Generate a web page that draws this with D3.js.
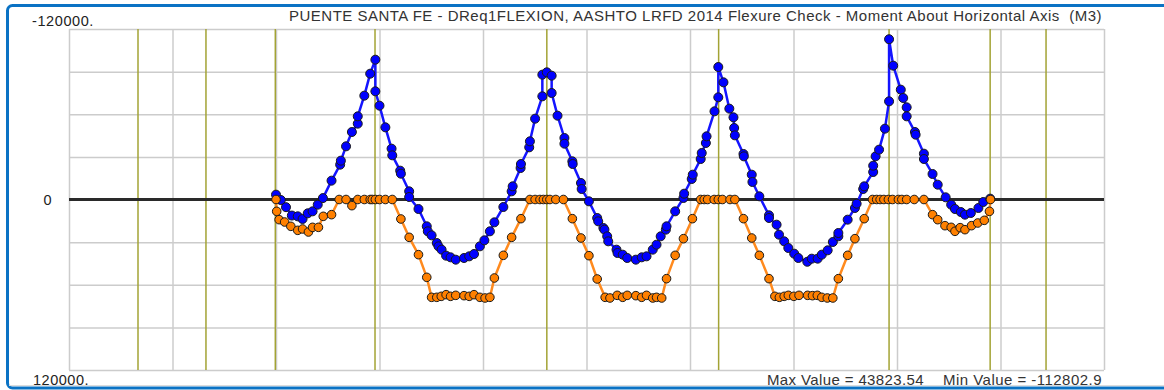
<!DOCTYPE html>
<html><head><meta charset="utf-8">
<script src="https://cdn.jsdelivr.net/npm/d3@7"></script>
<style>
html,body{margin:0;padding:0;background:#fff;}
svg{display:block;font-family:"Liberation Sans",Arial,sans-serif;}
text{white-space:pre;}
</style></head>
<body><svg id="c" width="1164" height="390"></svg>
<script>
// ---- data ----
const titleText = "PUENTE SANTA FE - DReq1FLEXION, AASHTO LRFD 2014 Flexure Check - Moment About Horizontal Axis  (M3)";
const yTicks = [-120000, -90000, -60000, -30000, 0, 30000, 60000, 90000, 120000];
const yLabels = ["-120000.", "0", "120000."];
const xGrid = [0, 30, 60, 90, 120, 150, 180, 210, 240, 270, 300];
const supports = [20.0, 39.7, 59.8, 88.7, 138.5, 188.3, 237.7, 267.0, 283.2];
const maxText = "Max Value = 43823.54";
const minText = "Min Value = -112802.9";

const blueX = [60.0,61.4,62.9,64.6,66.3,67.7,69.2,70.6,72.1,73.6,76.1,78.6,78.8,80.3,82.0,83.7,83.7,85.6,87.3,88.8,88.8,90.0,91.7,93.5,93.7,96.0,96.2,98.6,98.6,101.3,103.7,104.0,105.1,106.6,107.1,108.0,109.3,110.6,112.1,114.5,116.0,117.4,119.1,120.4,122.0,123.3,125.9,128.3,128.6,130.9,131.0,133.4,133.6,135.1,137.2,137.2,138.5,139.9,139.9,141.6,143.6,143.6,145.9,146.0,148.4,148.6,150.7,153.1,153.4,154.9,155.2,156.0,156.3,158.7,159.0,160.5,161.8,164.3,166.0,167.4,169.2,170.3,171.5,173.0,173.2,175.7,178.1,178.3,180.5,180.8,183.1,183.4,184.6,184.8,187.1,188.2,188.2,189.7,191.4,192.6,192.8,193.0,195.5,195.6,197.9,198.1,200.1,202.9,202.9,205.1,205.8,207.3,208.5,210.2,211.4,214.0,215.3,217.0,218.2,219.9,221.4,223.0,223.0,225.7,227.8,228.3,230.2,230.5,233.1,233.1,233.8,234.8,236.5,237.7,237.7,238.9,241.1,241.8,242.8,242.8,245.2,245.4,247.8,247.8,250.3,251.8,254.1,255.7,256.8,258.5,259.7,261.4,263.6,265.0,267.0];
const blueM = [-3400,350,5400,11300,11850,13700,9740,8330,3640,-1000,-13260,-24520,-27330,-37420,-47510,-53370,-58530,-73080,-88560,-98410,-76130,-66040,-50790,-35770,-31090,-20290,-18180,-5750,-1760,6690,18880,22400,25220,30620,32960,35310,39530,40700,42350,41170,40000,38360,32960,28740,22400,16070,5280,-5750,-9270,-22170,-24980,-36720,-40940,-56890,-72610,-87860,-89500,-87150,-74960,-59000,-43280,-39290,-26860,-24980,-11610,-7390,1290,13020,15370,20060,21230,25920,29440,35310,37650,38830,41170,42350,40700,40000,35310,31790,25920,21230,18880,8330,-1060,-4100,-14430,-17480,-28500,-32730,-39760,-44460,-62050,-71910,-93250,-82460,-63930,-57830,-50320,-45160,-32020,-30380,-17480,-12320,-2230,11140,13020,17710,24750,29440,34130,38120,41170,43820,41640,41640,38830,35780,29910,25920,23580,14190,5980,2930,-7390,-9270,-19350,-23810,-30380,-35070,-49850,-69090,-112800,-94190,-77300,-71440,-64870,-58530,-47510,-45630,-32260,-28500,-17950,-10440,-1530,3640,6690,8800,10670,9500,5980,1760,-590];

const orangeX = [60.0,60.2,60.9,62.5,64.3,66.3,67.7,69.4,70.6,72.3,73.7,76.1,78.3,80.3,82.0,83.7,85.6,87.3,87.9,88.8,90.0,91.7,93.7,96.2,98.6,101.3,103.7,105.1,106.6,107.9,109.3,110.6,112.1,114.5,116.0,117.4,119.1,120.6,122.0,123.3,125.9,128.3,131.0,133.6,135.1,136.5,137.5,138.5,139.4,141.1,143.3,145.9,148.4,150.7,153.1,155.4,156.8,158.9,160.5,161.8,164.3,166.0,167.4,169.2,170.3,171.8,173.2,175.7,178.1,180.7,183.1,184.1,185.1,187.0,188.2,189.4,191.6,193.0,195.5,197.9,200.1,202.9,204.6,205.9,207.3,208.5,210.1,211.6,214.1,215.5,216.9,218.2,219.8,221.4,223.0,225.7,227.8,230.5,232.9,234.1,235.1,236.2,237.5,238.7,240.4,241.4,242.8,245.0,247.8,250.3,251.8,253.9,255.7,256.8,258.3,259.7,261.6,263.4,265.3,266.8,267.1];
const orangeM = [0,8330,14190,15840,18880,21700,20760,22870,19590,19590,11850,10670,0,0,4340,0,0,0,0,0,0,0,0,13720,26630,38830,54780,68850,68850,68150,66980,68150,67450,67680,68150,66980,68850,69320,68850,55250,39290,26630,13490,0,0,0,0,0,0,0,0,13490,27100,39530,55950,68850,69320,67450,68850,67450,67680,68850,67450,69320,68850,69320,55720,39290,27570,13490,0,0,0,0,0,0,0,0,13490,27100,39290,55720,68150,68850,68150,67450,68150,67450,67450,67680,67450,68850,69320,69320,55720,39290,27570,13490,0,0,0,0,0,0,0,0,0,0,0,10670,14190,18420,19590,22400,19820,21230,18420,16540,14660,8330,0];

// ---- drawing ----
const svg = d3.select("#c");
const L = 69, R = 1104, T = 29, B = 370;
const x = d3.scaleLinear().domain([0, 300]).range([L, R]);
const y = d3.scaleLinear().domain([-120000, 120000]).range([T, B]);

// frame
svg.append("rect").attr("x", 7.5).attr("y", 5.5).attr("width", 1162).attr("height", 382.5)
  .attr("rx", 5).attr("fill", "#fff").attr("stroke", "#0a72c4").attr("stroke-width", 3);
svg.append("line").attr("x1", 9).attr("x2", 1164).attr("y1", 385.5).attr("y2", 385.5)
  .attr("stroke", "#dcdcdc").attr("stroke-width", 1);

// grid
const gy = svg.append("g").attr("transform", `translate(${L},0)`)
  .call(d3.axisLeft(y).tickValues(yTicks).tickSize(-(R - L)).tickFormat(""));
gy.select(".domain").remove();
gy.selectAll("line").attr("stroke", "#cccccc").attr("stroke-width", 1.5);
const gx = svg.append("g").attr("transform", `translate(0,${B})`)
  .call(d3.axisBottom(x).tickValues(xGrid).tickSize(-(B - T)).tickFormat(""));
gx.select(".domain").remove();
gx.selectAll("line").attr("stroke", "#cccccc").attr("stroke-width", 1.5);

// supports
svg.append("g").selectAll("line").data(supports).join("line")
  .attr("x1", d => x(d)).attr("x2", d => x(d)).attr("y1", T).attr("y2", B)
  .attr("stroke", "#a3a334").attr("stroke-width", 1.5);

// zero line
svg.append("line").attr("x1", L).attr("x2", R).attr("y1", y(0)).attr("y2", y(0))
  .attr("stroke", "#2a2a2a").attr("stroke-width", 3);

// text helper: stretch by letter-spacing to the measured width
function fit(t, w) {
  const n = t.text().length;
  const cur = t.node().getComputedTextLength();
  t.attr("letter-spacing", ((w - cur) / n).toFixed(3) + "px");
  return t;
}
const lab = svg.append("g").attr("fill", "#222").style("font-size", "14.5px");
fit(lab.append("text").attr("x", 32).attr("y", y(-120000) - 3).text(yLabels[0]), 62);
lab.append("text").attr("x", 47.5).attr("y", y(0) + 5).attr("text-anchor", "middle").text(yLabels[1]);
fit(lab.append("text").attr("x", 33).attr("y", y(120000) + 14.5).text(yLabels[2]), 56);
fit(svg.append("text").attr("x", 289).attr("y", 21)
  .attr("fill", "#333").style("font-size", "15px").text(titleText), 813);
fit(svg.append("text").attr("x", 767).attr("y", 384.5)
  .attr("fill", "#333").style("font-size", "15px").text(maxText), 157);
fit(svg.append("text").attr("x", 943).attr("y", 384.5)
  .attr("fill", "#333").style("font-size", "15px").text(minText), 159);

// series
function series(xs, ms, lineColor, fill, r) {
  const pts = xs.map((d, i) => [d, ms[i]]);
  const g = svg.append("g");
  g.append("path").datum(pts)
    .attr("d", d3.line().x(d => x(d[0])).y(d => y(d[1])))
    .attr("fill", "none").attr("stroke", lineColor).attr("stroke-width", 2.5).attr("stroke-linejoin", "round");
  g.selectAll("circle").data(pts).join("circle")
    .attr("cx", d => x(d[0])).attr("cy", d => y(d[1])).attr("r", r)
    .attr("fill", fill).attr("stroke", "#1a1a1a").attr("stroke-width", 1);
}
series(blueX, blueM, "#1414ff", "#0000ff", 4.5);
series(orangeX, orangeM, "#ff8a1e", "#ff8000", 4.3);
</script></body></html>
